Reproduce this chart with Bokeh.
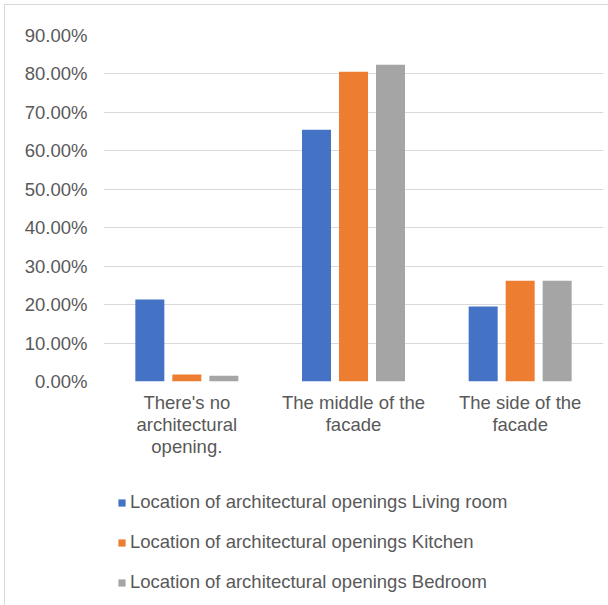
from bokeh.plotting import figure
from bokeh.layouts import column
from bokeh.models import FactorRange, Range1d, FixedTicker, NumeralTickFormatter, Legend, LegendItem, ColumnDataSource
from bokeh.transform import dodge
from bokeh.embed import file_html
from bokeh.resources import INLINE

categories = ["There's no\narchitectural\nopening.", "The middle of the\nfacade", "The side of the\nfacade"]
living_room = [0.213, 0.655, 0.195]
kitchen = [0.018, 0.806, 0.262]
bedroom = [0.015, 0.824, 0.262]
series_names = ["Location of architectural openings Living room",
                "Location of architectural openings Kitchen",
                "Location of architectural openings Bedroom"]
y_ticks = [0.0, 0.1, 0.2, 0.3, 0.4, 0.5, 0.6, 0.7, 0.8, 0.9]

colors = ["#4472C4", "#ED7D31", "#A5A5A5"]
FONT = "Liberation Sans"
TXT = "#595959"

src = ColumnDataSource(dict(cat=categories, living=living_room, kitchen=kitchen, bedroom=bedroom))

p = figure(x_range=FactorRange(factors=categories, range_padding=0), y_range=Range1d(0, 0.9),
           width=603, height=472, output_backend="svg", toolbar_location=None,
           min_border_left=98, min_border_right=5, min_border_top=30, min_border_bottom=96)
p.outline_line_color = None
p.background_fill_color = "white"
p.border_fill_color = "white"

for col, off, c in zip(["living", "kitchen", "bedroom"], [-0.222, 0.0, 0.222], colors):
    p.vbar(x=dodge("cat", off, range=p.x_range), top=col, width=0.174, source=src,
           fill_color=c, line_color=None)

p.xgrid.grid_line_color = None
p.ygrid.grid_line_color = "#d9d9d9"
p.ygrid.grid_line_width = 1.2
p.yaxis.ticker = FixedTicker(ticks=y_ticks)
p.yaxis.formatter = NumeralTickFormatter(format="0.00%")

for ax in (p.xaxis[0], p.yaxis[0]):
    ax.axis_line_color = None
    ax.major_tick_line_color = None
    ax.minor_tick_line_color = None
    ax.major_tick_in = 0
    ax.major_tick_out = 0
    ax.major_label_text_font = FONT
    ax.major_label_text_font_size = "18.5px"
    ax.major_label_text_color = TXT
p.yaxis.major_label_standoff = 16
p.xaxis.major_label_standoff = 10
p.xaxis.major_label_text_line_height = 1.05

# legend panel below the chart (legend-only renderers with zero-height bars)
p2 = figure(width=603, height=128, output_backend="svg", toolbar_location=None,
            x_axis_type=None, y_axis_type=None, x_range=Range1d(0, 1), y_range=Range1d(0, 1),
            min_border=0)
p2.outline_line_color = None
p2.grid.grid_line_color = None
items = []
for n, c in zip(series_names, colors):
    r = p2.vbar(x=[-100], top=[0], bottom=[0], width=0.1, fill_color=c, line_color=None)
    items.append(LegendItem(label=n, renderers=[r]))
legend = Legend(items=items, location="top_left", orientation="vertical",
                glyph_width=9, glyph_height=9, label_height=20, label_standoff=4, spacing=18,
                padding=0, margin=14, border_line_color=None, background_fill_alpha=0,
                label_text_font=FONT, label_text_font_size="18.5px", label_text_color=TXT)
p2.add_layout(legend, "center")

layout = column(p, p2, spacing=0)
layout.styles = {"margin-left": "4px", "margin-top": "4px",
                 "border-left": "1px solid #d9d9d9", "border-top": "1px solid #d9d9d9"}
open("out.html", "w").write(file_html(layout, INLINE))
